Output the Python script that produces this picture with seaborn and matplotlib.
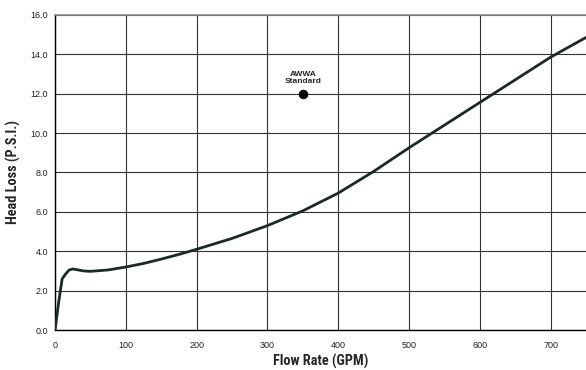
import seaborn as sns
import matplotlib.pyplot as plt
import pandas as pd

# values
flow = [0, 5, 10, 15, 20, 25, 30, 40, 50, 75, 100, 125, 150, 175, 200, 250, 300,
        350, 400, 450, 500, 550, 600, 650, 700, 750]
loss = [0.0, 1.4, 2.6, 2.85, 3.05, 3.1, 3.07, 3.0, 2.98, 3.05, 3.2, 3.38, 3.6, 3.84, 4.1,
        4.65, 5.3, 6.05, 6.95, 8.05, 9.25, 10.4, 11.55, 12.7, 13.85, 14.85]

awwa_flow = [350]
awwa_loss = [12.0]

yticks = [0, 2, 4, 6, 8, 10, 12, 14, 16]
xticks = [0, 100, 200, 300, 400, 500, 600, 700]

sns.set_style("white")
plt.rcParams['font.family'] = ['Liberation Sans', 'DejaVu Sans']

df = pd.DataFrame({"flow": flow, "loss": loss})

fig = plt.figure(figsize=(5.86, 3.70), dpi=100)
ax = fig.add_axes([0.094, 0.108, 0.906, 0.852])

sns.lineplot(data=df, x="flow", y="loss", ax=ax, color="#1b2a22", linewidth=2.0, zorder=3)
sns.scatterplot(x=awwa_flow, y=awwa_loss, ax=ax, color="black", s=40, zorder=4, edgecolor="black")
ax.annotate("AWWA\nStandard", (awwa_flow[0], awwa_loss[0]), xytext=(0, 6), textcoords="offset points",
            ha="center", va="bottom", fontsize=6, fontweight="bold", linespacing=1.0)

ax.set_xlim(0, 750)
ax.set_ylim(0, 16)
ax.set_xticks(xticks)
ax.set_yticks(yticks)
ax.set_yticklabels([f"{v:.1f}" for v in yticks])
ax.tick_params(labelsize=6.5, length=3, width=0.8, colors="#222222", pad=2)
ax.tick_params(axis="x", pad=5)

ax.grid(True, color="#333333", linewidth=0.8)
ax.set_axisbelow(True)
ax.spines["right"].set_visible(False)
ax.spines["top"].set_color("#888888")
ax.spines["top"].set_linewidth(1.2)
for s in ["left", "bottom"]:
    ax.spines[s].set_color("black")
    ax.spines[s].set_linewidth(1)

narrow = ["Roboto Condensed", "Liberation Sans"]
ax.set_xlabel("Flow Rate (GPM)", fontsize=10.3, fontweight="bold", family=narrow, labelpad=3)
ax.set_ylabel("Head Loss (P.S.I.)", fontsize=10.3, fontweight="bold", family=narrow, labelpad=7)

fig.savefig("out.png", dpi=100)
